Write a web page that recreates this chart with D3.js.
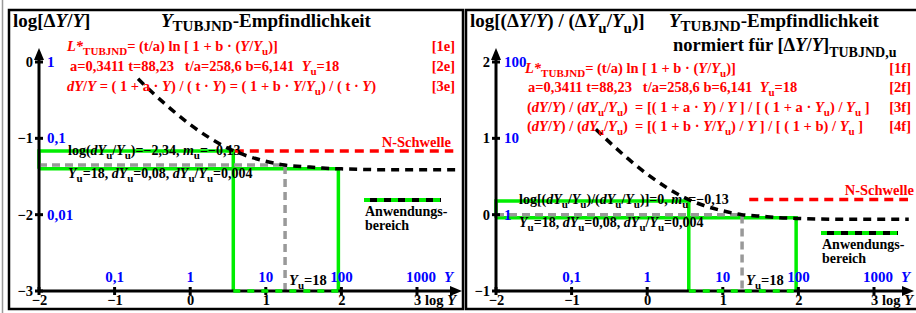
<!DOCTYPE html>
<html>
<head>
<meta charset="utf-8">
<script src="https://cdn.jsdelivr.net/npm/d3@7"></script>
<style>
  body { margin: 0; background: #fff; }
  text { font-family: "Liberation Serif", "Times New Roman", serif; font-weight: bold; white-space: pre; }
</style>
</head>
<body>
<svg id="chart" width="916" height="313"></svg>
<script>
// values
var xTicks = [-2, -1, 0, 1, 2, 3];
var xBlue = [[-1, "0,1"], [0, "1"], [1, "10"], [2, "100"], [3, "1000"]];

var logYLeft = [-0.69, -0.5, -0.25, 0, 0.25, 0.5, 0.75, 1, 1.25, 1.5, 1.75, 2, 2.5, 3, 3.57];
var valLeft = [-0.22, -0.40, -0.62, -0.82, -0.99, -1.13, -1.23, -1.30, -1.35, -1.37, -1.39, -1.40, -1.41, -1.41, -1.41];
var logYRight = [-0.68, -0.5, -0.25, 0, 0.25, 0.5, 0.75, 1, 1.25, 1.5, 1.75, 2, 2.5, 3, 3.46];
var valRight = [1.12, 0.95, 0.73, 0.53, 0.36, 0.22, 0.12, 0.05, 0.0, -0.02, -0.04, -0.05, -0.06, -0.06, -0.06];

var yTicksLeft = [0, -1, -2, -3];
var yBlueLeft = [[0, "1"], [-1, "0,1"], [-2, "0,01"]];
var yTicksRight = [2, 1, 0, -1];
var yBlueRight = [[2, "100"], [1, "10"], [0, "1"]];

var logYu = 1.255;
var rangeLo = [0.57, 0.55];
var rangeHi = [1.96, 1.97];
var greenTop = [-1.167, 0.18];
var greenBot = [-1.40, -0.04];
var grayVal = [-1.35, 0];
var nSchwelle = [-1.167, 0.2];
var nStart = [0.59, 1.35];

var svg = d3.select("#chart");

// tiny markup: <i>..</i> italic, <s>..</s> subscript
function rich(sel, x, y, str, size, color, anchor, subShift) {
  var t = sel.append("text").attr("x", x).attr("y", y)
    .attr("font-size", size).attr("fill", color || "#000")
    .attr("text-anchor", anchor || "start");
  var parts = str.split(/(<\/?[is]>)/);
  var ital = false, sub = false, shift = 0;
  var d = subShift || Math.round(size * 0.3);
  parts.forEach(function(p) {
    if (p == "<i>") { ital = true; return; }
    if (p == "</i>") { ital = false; return; }
    if (p == "<s>") { sub = true; shift += d; return; }
    if (p == "</s>") { sub = false; shift -= d; return; }
    if (!p) return;
    var ts = t.append("tspan").text(p);
    if (ital) ts.attr("font-style", "italic");
    if (sub) ts.attr("font-size", Math.round(size * 0.78));
    if (shift) { ts.attr("dy", shift); shift = 0; }
  });
  return t;
}

function fmt(d) { return d < 0 ? "\u2212" + (-d) : String(d); }

function panel(p) {
  var g = svg.append("g");
  var x = d3.scaleLinear().domain([-2, 3]).range([p.x0, p.x0 + 378]);
  var y = d3.scaleLinear().domain(p.yDom).range([291, 62]);
  var yMin = p.yDom[0];
  var line = d3.line().x(function(d) { return x(d[0]); }).y(function(d) { return y(d[1]); });

  // frame
  g.append("rect").attr("x", p.fx).attr("y", 10).attr("width", p.fw).attr("height", 299)
    .attr("fill", "none").attr("stroke", "#000").attr("stroke-width", 2.5);

  // green boxes
  var gr = g.append("g").attr("fill", "none").attr("stroke", "#00ee00").attr("stroke-width", 3.5);
  gr.append("path").attr("d", line([[-2, greenBot[p.i]], [-2, greenTop[p.i]], [rangeLo[p.i], greenTop[p.i]], [rangeLo[p.i], yMin]]));
  gr.append("path").attr("d", line([[-2, greenBot[p.i]], [rangeHi[p.i], greenBot[p.i]], [rangeHi[p.i], yMin]]));

  // gray Yu marker
  g.append("path").attr("d", line([[-2, grayVal[p.i]], [logYu, grayVal[p.i]], [logYu, yMin]]))
    .attr("fill", "none").attr("stroke", "#999").attr("stroke-width", 3.5).attr("stroke-dasharray", "8,5");

  // N-Schwelle
  g.append("path").attr("d", line([[nStart[p.i], nSchwelle[p.i]], [p.xEnd, nSchwelle[p.i]]]))
    .attr("fill", "none").attr("stroke", "#ff0000").attr("stroke-width", 3.5).attr("stroke-dasharray", "9,6");

  // axes
  var ax = g.append("g").attr("stroke", "#000").attr("stroke-width", 3);
  ax.append("line").attr("x1", x(-2)).attr("x2", p.arrowX - 8).attr("y1", y(yMin)).attr("y2", y(yMin));
  ax.append("line").attr("x1", x(-2)).attr("x2", x(-2)).attr("y1", y(yMin)).attr("y2", 58);
  g.append("path").attr("d", "M" + p.arrowX + "," + y(yMin) + "l-12,-5v10z").attr("fill", "#000");
  g.append("path").attr("d", "M" + x(-2) + ",48l-5,12h10z").attr("fill", "#000");
  xTicks.forEach(function(t) {
    ax.append("line").attr("x1", x(t)).attr("x2", x(t)).attr("y1", y(yMin) - 4).attr("y2", y(yMin) + 4);
  });
  p.yTicks.forEach(function(t) {
    ax.append("line").attr("x1", x(-2) - 4).attr("x2", x(-2) + 4).attr("y1", y(t)).attr("y2", y(t));
  });

  // Anwendungsbereich along the x axis
  g.append("path").attr("d", line([[rangeLo[p.i], yMin], [rangeHi[p.i], yMin]]))
    .attr("stroke", "#00ee00").attr("stroke-width", 3.5).attr("stroke-dasharray", "7,7");

  var gx = g.append("g").attr("transform", "translate(0," + y(yMin) + ")")
    .call(d3.axisBottom(x).tickValues(xTicks).tickSize(0).tickPadding(4).tickFormat(fmt));
  gx.select(".domain").remove();
  gx.attr("font-size", 14.5).attr("font-family", null);
  gx.selectAll("text").attr("fill", "#000");

  var gy = g.append("g").attr("transform", "translate(" + x(-2) + ",0)")
    .call(d3.axisLeft(y).tickValues(p.yTicks).tickSize(0).tickPadding(6).tickFormat(fmt));
  gy.select(".domain").remove();
  gy.attr("font-size", 14.5).attr("font-family", null);
  gy.selectAll("text").attr("fill", "#000");

  rich(g, x(3) + 8, 305, "log <i>Y</i>", 14.5);

  // blue value labels
  xBlue.forEach(function(d) {
    rich(g, x(d[0]) + (d[1] == "1000" ? 4 : 0), 282, d[1], 15, "#0000ff", "middle");
  });
  rich(g, x(3) + 27, 282, "<i>Y</i>", 15, "#0000ff");
  p.yBlue.forEach(function(d) {
    rich(g, x(-2) + 8, y(d[0]) + 5, d[1], 15, "#0000ff");
  });

  // curve
  g.append("path").datum(d3.zip(p.cx, p.cy))
    .attr("d", line.curve(d3.curveMonotoneX))
    .attr("fill", "none").attr("stroke", "#000").attr("stroke-width", 3.5).attr("stroke-dasharray", "8,6");

  // legend
  g.append("line").attr("x1", p.legX).attr("x2", p.legX + 77).attr("y1", p.legY).attr("y2", p.legY)
    .attr("stroke", "#00ee00").attr("stroke-width", 4);
  g.append("line").attr("x1", p.legX + 6).attr("x2", p.legX + 77).attr("y1", p.legY).attr("y2", p.legY)
    .attr("stroke", "#000").attr("stroke-width", 4).attr("stroke-dasharray", "7,7");
  rich(g, p.legX + 1, p.legY + 16, "Anwendungs-", 14);
  rich(g, p.legX + 1, p.legY + 30, "bereich", 14);

  rich(g, x(logYu) + 4, 285, "<i>Y</i><s>u</s>=18", 14.5);
  rich(g, p.fx + p.fw - 12, p.nY, "N-Schwelle", 14.5, "#ff0000", "end");
  return g;
}

var left = panel({
  i: 0, x0: 39, yDom: [-3, 0], fx: 9, fw: 454, arrowX: 462, xEnd: 3.48,
  yTicks: yTicksLeft, yBlue: yBlueLeft, cx: logYLeft, cy: valLeft,
  legX: 364, legY: 200, nY: 147
});
var right = panel({
  i: 1, x0: 496, yDom: [-1, 2], fx: 466, fw: 460, arrowX: 914, xEnd: 3.45,
  yTicks: yTicksRight, yBlue: yBlueRight, cx: logYRight, cy: valRight,
  legX: 821, legY: 233, nY: 195
});

svg.append("line").attr("x1", 2.5).attr("x2", 2.5).attr("y1", 0).attr("y2", 313)
  .attr("stroke", "#999").attr("stroke-width", 1.5);

// left panel texts
var red = "#ff0000";
rich(left, 13, 27, "log[\u0394<i>Y</i>/<i>Y</i>]", 19);
rich(left, 161, 27, "<i>Y</i><s>TUBJND</s>-Empfindlichkeit", 19, null, null, 4);
rich(left, 67, 51, "<i>L*</i><s>TUBJND</s>= (t/a) ln [ 1 + b \u00b7 (<i>Y</i>/<i>Y</i><s>u</s>)]", 14.5, red);
rich(left, 455, 51, "[1e]", 14.5, red, "end");
rich(left, 70, 71, "a=0,3411 t=88,23   t/a=258,6 b=6,141  <i>Y</i><s>u</s>=18", 14.5, red);
rich(left, 455, 71, "[2e]", 14.5, red, "end");
rich(left, 67, 91, "<i>dY</i>/<i>Y</i> = ( 1 + a \u00b7 <i>Y</i>) / ( t \u00b7 <i>Y</i>) = ( 1 + b \u00b7 <i>Y</i>/<i>Y</i><s>u</s>) / ( t \u00b7 <i>Y</i>)", 14.5, red);
rich(left, 455, 91, "[3e]", 14.5, red, "end");
rich(left, 68, 155, "log(<i>dY</i><s>u</s>/<i>Y</i><s>u</s>)=\u22122,34, <i>m</i><s>u</s>=\u22120,13", 14);
rich(left, 68, 178, "<i>Y</i><s>u</s>=18, <i>dY</i><s>u</s>=0,08, <i>dY</i><s>u</s>/<i>Y</i><s>u</s>=0,004", 14);

// right panel texts
rich(right, 470, 27, "log[(\u0394<i>Y</i>/<i>Y</i>) / (\u0394<i>Y</i><s>u</s>/<i>Y</i><s>u</s>)]", 19);
rich(right, 669, 27, "<i>Y</i><s>TUBJND</s>-Empfindlichkeit", 19, null, null, 4);
rich(right, 673, 51, "normiert f\u00fcr [\u0394<i>Y</i>/<i>Y</i>]<s>TUBJND,u</s>", 18.5);
rich(right, 525, 73, "<i>L*</i><s>TUBJND</s>= (t/a) ln [ 1 + b \u00b7 (<i>Y</i>/<i>Y</i><s>u</s>)]", 14.5, red);
rich(right, 911, 73, "[1f]", 14.5, red, "end");
rich(right, 528, 92, "a=0,3411 t=88,23   t/a=258,6 b=6,141  <i>Y</i><s>u</s>=18", 14.5, red);
rich(right, 911, 92, "[2f]", 14.5, red, "end");
rich(right, 527, 112, "(<i>dY</i>/<i>Y</i>) / (<i>dY</i><s>u</s>/<i>Y</i><s>u</s>)  = [( 1 + a \u00b7 <i>Y</i>) / <i>Y</i> ] / [ ( 1 + a \u00b7 <i>Y</i><s>u</s>) / <i>Y</i><s>u</s> ]", 14.5, red);
rich(right, 911, 112, "[3f]", 14.5, red, "end");
rich(right, 527, 131, "(<i>dY</i>/<i>Y</i>) / (<i>dY</i><s>u</s>/<i>Y</i><s>u</s>)  = [( 1 + b \u00b7 <i>Y</i>/<i>Y</i><s>u</s>) / <i>Y</i> ] / [ ( 1 + b) / <i>Y</i><s>u</s> ]", 14.5, red);
rich(right, 911, 131, "[4f]", 14.5, red, "end");
rich(right, 519, 204, "log[(<i>dY</i><s>u</s>/<i>Y</i><s>u</s>)/(<i>dY</i><s>u</s>/<i>Y</i><s>u</s>)]=0, <i>m</i><s>u</s>=\u22120,13", 14);
rich(right, 519, 227, "<i>Y</i><s>u</s>=18, <i>dY</i><s>u</s>=0,08, <i>dY</i><s>u</s>/<i>Y</i><s>u</s>=0,004", 14);
</script>
</body>
</html>
